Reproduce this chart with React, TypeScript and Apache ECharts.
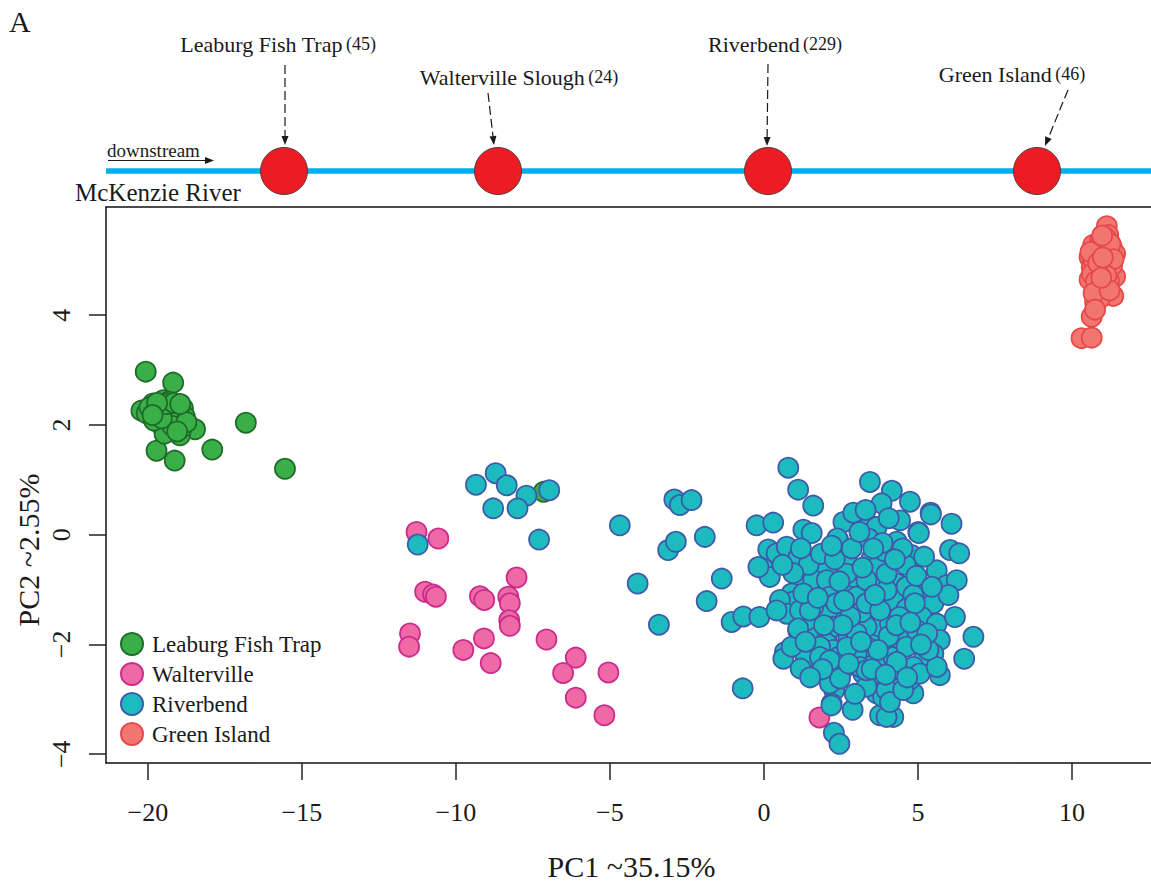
import { useEffect, useRef } from 'react';
import * as echarts from 'echarts';

const SERIF = '"Liberation Serif", "Times New Roman", serif';
const INK = '#1a1a1a';

// Axis layout
const X_TICKS = [-20, -15, -10, -5, 0, 5, 10];
const Y_TICKS = [-4, -2, 0, 2, 4];
const X_MIN = -21.36;
const X_MAX = 12.76;
const Y_MIN = -4.16;
const Y_MAX = 5.97;
const X_TITLE = 'PC1 ~35.15%';
const Y_TITLE = 'PC2 ~2.55%';

// Sampling sites, upstream to downstream
const GROUPS = ['Leaburg Fish Trap', 'Walterville', 'Riverbend', 'Green Island'];
const SITE_NAMES = ['Leaburg Fish Trap', 'Walterville Slough', 'Riverbend', 'Green Island'];
const SITE_COUNTS = [45, 24, 229, 46];
const FILLS = ['#3AAF48', '#EE69A6', '#1DBAC0', '#F27670'];
const EDGES = ['#1E6B2A', '#CC2A8C', '#3E5BA9', '#E5494A'];

// PCA scores [PC1, PC2]
const LEABURG: [number, number][] = [
  [-20.07, 2.97], [-19.18, 2.77], [-16.82, 2.04], [-19.72, 1.53], [-19.13, 1.35], [-17.91, 1.55], [-15.55, 1.2],
  [-20.21, 2.26], [-19.9, 2.24], [-19.83, 2.39], [-19.5, 2.45], [-19.34, 2.42], [-19.18, 2.21], [-18.86, 2.3],
  [-18.67, 1.99], [-18.47, 1.92], [-19.56, 2.0], [-19.3, 1.9], [-18.96, 1.81], [-19.46, 1.84], [-20.04, 2.21],
  [-19.72, 2.15], [-19.39, 2.09], [-19.07, 2.15], [-18.8, 2.15], [-19.66, 2.3], [-19.6, 2.35], [-19.45, 2.28],
  [-19.25, 2.33], [-19.1, 2.05], [-19.0, 2.25], [-18.9, 1.95], [-19.8, 2.08], [-19.95, 2.32], [-19.35, 2.18],
  [-19.2, 1.98], [-18.75, 2.05], [-19.55, 2.12], [-19.4, 2.38], [-19.15, 2.4], [-18.95, 2.38], [-19.7, 2.4],
  [-19.85, 2.18], [-19.05, 1.88], [-7.15, 0.78],
];

const WALTERVILLE: [number, number][] = [
  [-11.28, 0.05], [-10.57, -0.07], [-8.03, -0.78], [-11.0, -1.04], [-10.74, -1.09], [-10.65, -1.13],
  [-9.22, -1.12], [-9.08, -1.19], [-8.3, -1.13], [-8.25, -1.25], [-8.27, -1.56], [-8.25, -1.66],
  [-11.49, -1.8], [-11.52, -2.04], [-9.09, -1.89], [-9.76, -2.1], [-8.87, -2.34], [-7.06, -1.91],
  [-6.11, -2.24], [-6.52, -2.52], [-5.05, -2.51], [-6.11, -2.97], [-5.18, -3.29], [1.8, -3.33],
];

const RIVERBEND: [number, number][] = [
  [-9.35, 0.91], [-8.71, 1.12], [-8.35, 0.9], [-7.71, 0.71], [-6.97, 0.81], [-8.79, 0.48], [-8.0, 0.48],
  [-11.24, -0.18], [-7.3, -0.09], [-4.68, 0.17], [-4.1, -0.89], [-3.41, -1.64], [-2.91, 0.64], [-2.73, 0.54],
  [-2.35, 0.63], [-3.11, -0.28], [-2.86, -0.13], [-1.92, -0.04], [-1.37, -0.8], [-1.86, -1.21], [-1.05, -1.59],
  [-0.67, -1.49], [-0.15, -1.5], [-0.69, -2.8], [0.79, 1.22], [1.11, 0.82], [1.6, 0.53], [-0.24, 0.17],
  [0.3, 0.22], [1.28, 0.09], [1.55, 0.03], [0.14, -0.27], [0.41, -0.34], [0.74, -0.22], [-0.02, -0.62],
  [0.19, -0.77], [1.11, -0.43], [1.25, -0.77], [2.04, -0.62], [0.9, -1.07], [0.95, -1.22], [0.52, -1.35],
  [1.11, -1.74], [0.68, -2.14], [0.63, -2.26], [1.36, -2.24], [1.19, -2.44], [1.71, -1.8], [2.04, -1.92],
  [2.04, -1.04], [2.68, -1.04], [2.52, -1.44], [2.74, -1.86], [2.45, -2.59], [2.28, -2.83], [2.2, -3.08],
  [2.88, -3.19], [2.27, -3.61], [2.45, -3.81], [2.58, 0.23], [2.41, -0.1], [2.68, -0.4], [3.2, 0.32],
  [3.43, 0.17], [3.66, 0.14], [3.44, 0.96], [4.15, 0.8], [3.82, 0.57], [4.74, 0.6], [4.42, 0.26],
  [5.01, 0.05], [5.41, 0.4], [6.09, 0.2], [4.31, -0.13], [4.79, -0.37], [3.5, -0.43], [2.9, -0.77],
  [3.71, -0.92], [4.31, -0.89], [3.66, -0.59], [5.61, -0.65], [5.93, -0.92], [6.04, -0.28], [5.23, -1.01],
  [5.5, -1.25], [5.12, -1.5], [5.61, -1.62], [5.71, -1.92], [5.5, -2.17], [5.71, -2.56], [4.85, -2.89],
  [4.2, -3.32], [3.77, -3.29], [4.72, -2.65], [4.31, -2.47], [3.77, -2.74], [3.44, -2.29], [3.22, -2.53],
  [3.98, -2.1], [4.42, -1.98], [4.85, -1.92], [5.17, -2.29], [3.55, -1.92], [3.77, -1.68], [4.09, -1.62],
  [3.33, -1.68], [3.44, -1.32], [4.2, -1.19], [4.63, -1.35], [3.98, -1.01], [4.63, -0.95], [2.04, -1.44],
  [1.6, -1.32], [1.66, -0.95], [1.39, -1.56], [2.25, -1.68], [3.01, -1.8], [3.01, -1.13], [3.17, -1.41],
  [2.68, -0.71], [3.33, -0.83], [3.98, -0.71], [2.04, -1.98], [2.25, -2.1], [2.41, -2.23], [3.33, -2.04],
  [3.87, -2.41], [4.2, -2.23], [4.85, -2.41], [5.06, -2.53], [3.66, -2.68], [3.66, -2.89], [3.87, -2.96],
  [4.42, -2.8], [-0.18, -0.59], [0.52, -1.19], [0.74, -1.44], [1.17, -1.38], [1.6, -0.83], [2.04, -0.83],
  [1.82, -2.04], [1.17, -1.92], [0.9, -2.04], [2.14, -2.71], [2.63, -2.41], [3.01, -2.17], [3.12, -2.41],
  [3.33, -2.77], [5.42, 0.37], [5.03, 0.03], [6.34, -0.34], [6.26, -0.83], [6.2, -1.5], [6.8, -1.86],
  [6.5, -2.26], [5.61, -2.41], [4.47, -1.92], [3.39, -0.07], [2.38, -0.07], [3.33, -1.25], [4.85, -1.1],
  [0.41, -1.38], [1.11, -1.71], [1.82, -2.23], [2.14, -2.29], [2.47, -2.62], [2.19, -3.11], [3.98, -3.32],
  [3.98, -2.83], [4.09, -3.05], [4.52, -2.83], [5.34, -2.1], [3.33, -2.47], [4.63, -2.04], [4.31, -2.32],
  [4.96, -1.74], [3.77, -1.38], [2.14, -1.13], [1.49, -1.38], [1.28, -1.07], [5.99, -1.1], [1.45, -0.55],
  [1.85, -0.35], [2.3, -0.45], [2.85, -0.25], [3.1, 0.05], [3.9, -0.3], [4.6, -0.55], [5.2, -0.4],
  [2.35, -1.25], [2.8, -1.5], [3.6, -1.1], [4.4, -1.5], [4.9, -1.25], [5.3, -1.8], [2.7, -2.05],
  [3.5, -2.45], [4.05, -1.85], [4.65, -2.6], [1.35, -1.95], [0.95, -0.7], [1.75, -1.15], [2.55, -1.65],
  [3.85, -0.15], [4.05, 0.3], [2.9, 0.4], [2.45, -0.85], [3.2, -0.6], [4.95, -0.75], [5.45, -0.95],
  [1.9, -2.45], [2.95, -2.9], [4.3, -1.65], [0.6, -0.55], [1.5, -2.6], [2.6, -1.2], [3.7, -2.1],
  [4.5, -0.25], [5.1, -2.0], [3.3, 0.45], [2.2, -0.2], [3.55, -0.25], [4.25, -0.45], [1.95, -1.65],
  [3.15, -1.95], [4.75, -1.6], [2.75, -2.35], [3.95, -2.55], [1.2, -0.25],
];

const GREEN_ISLAND: [number, number][] = [
  [11.13, 5.62], [11.18, 5.46], [10.69, 5.28], [10.91, 5.34], [11.29, 5.24], [11.4, 5.12], [11.02, 5.22],
  [10.57, 5.06], [10.89, 5.0], [11.23, 4.97], [11.06, 4.88], [10.64, 4.88], [11.4, 4.7], [11.02, 4.79],
  [10.57, 4.65], [10.91, 4.58], [10.8, 4.46], [11.34, 4.35], [10.75, 4.24], [10.64, 3.97], [10.31, 3.58],
  [10.64, 3.59], [11.1, 5.4], [10.8, 5.2], [10.95, 5.15], [11.15, 5.08], [10.7, 5.0], [11.3, 4.9],
  [10.85, 4.8], [11.2, 4.62], [10.65, 4.75], [11.05, 4.5], [10.9, 4.3], [10.72, 5.12], [11.25, 5.3],
  [10.98, 5.45], [10.6, 5.15], [11.35, 5.02], [10.78, 4.62], [11.12, 4.72], [10.85, 4.95], [11.0, 5.05],
  [10.7, 4.4], [11.22, 4.45], [10.95, 4.68], [10.75, 4.1],
];

const SCORES = [LEABURG, WALTERVILLE, RIVERBEND, GREEN_ISLAND];

// River schematic: site markers along the channel and their callouts
const RIVER_Y = 171;
const SITE_X = [284, 498, 768, 1037];
const CALLOUT_POS: [number, number][] = [[278, 44], [519, 77], [775, 44], [1012, 74]];
const CALLOUT_ARROWS: [number, number, number, number][] = [
  [285, 65, 285, 145],
  [488, 93, 494, 145],
  [768, 64, 767, 146],
  [1068, 90, 1045, 146],
];

// The plot frame runs past the right edge of the page
const CANVAS_W = 1165;
const CANVAS_H = 884;

const minusFmt = (v: number) => (v < 0 ? '\u2212' + Math.abs(v) : String(v));

function arrow(x1: number, y1: number, x2: number, y2: number, dashed: boolean) {
  const ang = Math.atan2(y2 - y1, x2 - x1);
  const len = 9;
  const half = 3.5;
  const bx = x2 - len * Math.cos(ang);
  const by = y2 - len * Math.sin(ang);
  const px = -Math.sin(ang) * half;
  const py = Math.cos(ang) * half;
  return [
    {
      type: 'line',
      shape: { x1, y1, x2: bx, y2: by },
      style: { stroke: INK, lineWidth: 1.2, lineDash: dashed ? [9, 4] : null },
    },
    {
      type: 'polygon',
      shape: { points: [[x2, y2], [bx + px, by + py], [bx - px, by - py]] },
      style: { fill: INK },
    },
  ];
}

export default function App() {
  const ref = useRef<HTMLDivElement>(null);

  useEffect(() => {
    if (!ref.current) return;
    const chart = echarts.init(ref.current, undefined, { renderer: 'svg' });

    const graphics: any[] = [
      { type: 'text', x: 9, y: 6, style: { text: 'A', fontFamily: SERIF, fontSize: 30, fill: INK } },
      {
        type: 'line',
        shape: { x1: 106, y1: RIVER_Y, x2: 1151, y2: RIVER_Y },
        style: { stroke: '#00AEEF', lineWidth: 5.5 },
      },
      {
        type: 'text',
        x: 107,
        y: 150,
        style: { text: 'downstream', fontFamily: SERIF, fontSize: 19, fill: INK, verticalAlign: 'middle' },
      },
      ...arrow(108, 160.5, 214, 160.5, false),
      {
        type: 'text',
        x: 75,
        y: 192,
        style: { text: 'McKenzie River', fontFamily: SERIF, fontSize: 25, fill: INK, verticalAlign: 'middle' },
      },
    ];

    SITE_X.forEach((sx, i) => {
      graphics.push({
        type: 'circle',
        shape: { cx: sx, cy: RIVER_Y, r: 23.5 },
        style: { fill: '#ED1C24', stroke: '#5a3a3a', lineWidth: 1 },
      });
      const [lx, ly] = CALLOUT_POS[i];
      graphics.push({
        type: 'text',
        x: lx,
        y: ly,
        style: {
          text: `{n|${SITE_NAMES[i]}} {c|(${SITE_COUNTS[i]})}`,
          align: 'center',
          verticalAlign: 'middle',
          fill: INK,
          rich: {
            n: { fontFamily: SERIF, fontSize: 22, fill: INK },
            c: { fontFamily: SERIF, fontSize: 18, fill: INK },
          },
        },
      });
      const [a, b, c, d] = CALLOUT_ARROWS[i];
      graphics.push(...arrow(a, b, c, d, true));
    });

    graphics.push({
      type: 'text',
      x: 28,
      y: 550,
      rotation: Math.PI / 2,
      style: {
        text: Y_TITLE,
        fontFamily: SERIF,
        fontSize: 30,
        fill: INK,
        align: 'center',
        verticalAlign: 'middle',
      },
    });

    const frameLine = { show: true, onZero: false, lineStyle: { color: '#111', width: 1.5 } };

    chart.setOption({
      animation: false,
      backgroundColor: '#ffffff',
      textStyle: { fontFamily: SERIF, color: INK },
      grid: {
        left: 106,
        top: 207,
        right: CANVAS_W - 1157,
        bottom: 121,
        show: false,
        outerBoundsMode: 'none',
      },
      xAxis: [
        {
          type: 'value',
          min: X_MIN,
          max: X_MAX,
          splitLine: { show: false },
          axisLine: frameLine,
          axisTick: { show: true, length: 17, customValues: X_TICKS, lineStyle: { color: '#222', width: 1.5 } },
          axisLabel: {
            customValues: X_TICKS,
            formatter: minusFmt,
            fontFamily: SERIF,
            fontSize: 26,
            color: INK,
            margin: 36,
          },
          name: X_TITLE,
          nameLocation: 'middle',
          nameGap: 88,
          nameTextStyle: { fontFamily: SERIF, fontSize: 30, color: INK },
        },
        {
          // top edge of the plot frame
          type: 'value',
          position: 'top',
          min: X_MIN,
          max: X_MAX,
          splitLine: { show: false },
          axisLine: frameLine,
          axisTick: { show: false },
          axisLabel: { show: false },
        },
      ],
      yAxis: {
        type: 'value',
        min: Y_MIN,
        max: Y_MAX,
        splitLine: { show: false },
        axisLine: frameLine,
        axisTick: { show: true, length: 17, customValues: Y_TICKS, lineStyle: { color: '#222', width: 1.5 } },
        axisLabel: {
          customValues: Y_TICKS,
          formatter: minusFmt,
          rotate: 90,
          fontFamily: SERIF,
          fontSize: 26,
          color: INK,
          margin: 32,
        },
      },
      legend: {
        data: GROUPS,
        orient: 'vertical',
        left: 120,
        top: 632,
        padding: 0,
        itemGap: 6,
        itemWidth: 22,
        itemHeight: 22,
        icon: 'circle',
        textStyle: { fontFamily: SERIF, fontSize: 23, color: INK, padding: [0, 0, 0, 4] },
      },
      series: GROUPS.map((g, i) => ({
        name: g,
        type: 'scatter',
        xAxisIndex: 0,
        data: SCORES[i],
        symbol: 'circle',
        symbolSize: 20,
        itemStyle: { color: FILLS[i], borderColor: EDGES[i], borderWidth: 1.8, opacity: 1 },
        emphasis: { disabled: true },
      })),
      graphic: graphics,
    });

    return () => chart.dispose();
  }, []);

  return <div ref={ref} style={{ position: 'fixed', left: 0, top: 0, width: CANVAS_W, height: CANVAS_H }} />;
}
